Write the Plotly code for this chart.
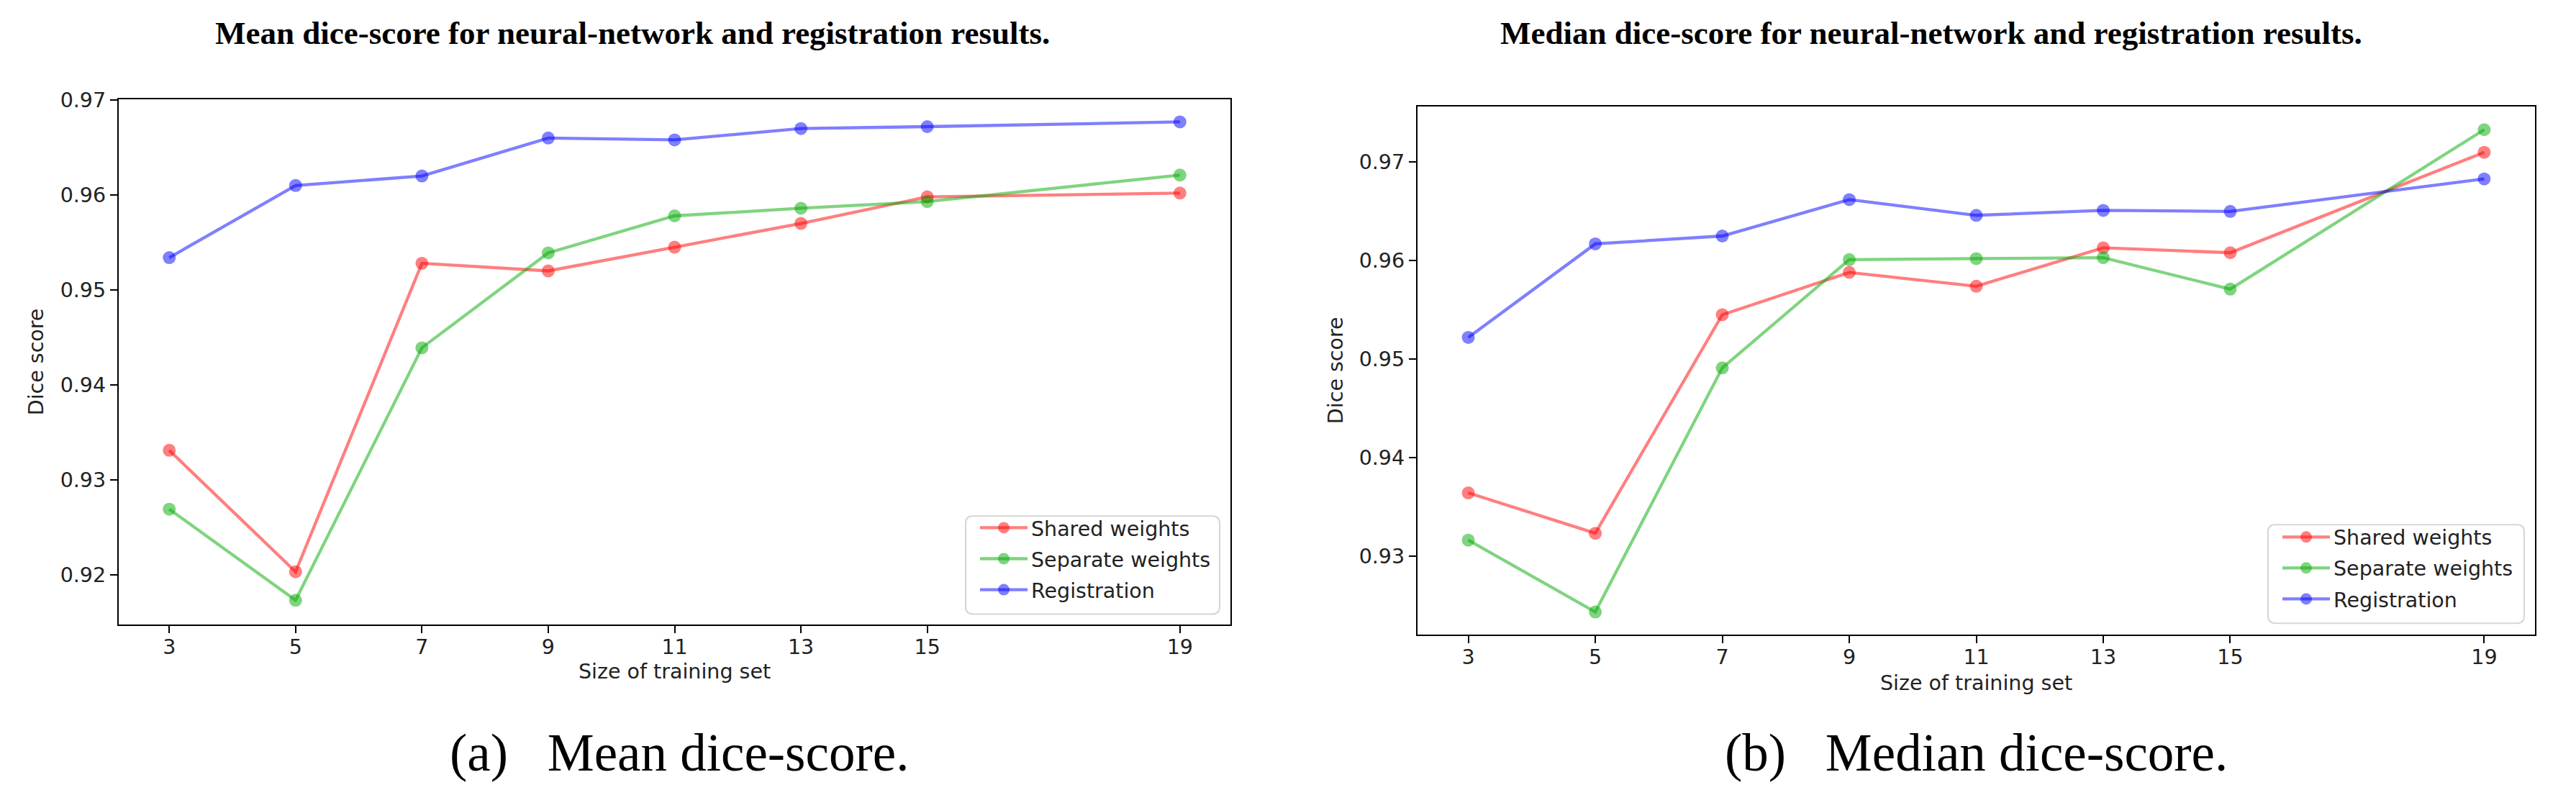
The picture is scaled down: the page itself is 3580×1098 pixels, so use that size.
import plotly.graph_objects as go

# ---------------- data ----------------
train_sizes = [3, 5, 7, 9, 11, 13, 15, 19]
x_tick_labels = ["3", "5", "7", "9", "11", "13", "15", "19"]

mean_shared = [0.9331, 0.9203, 0.9528, 0.9520, 0.9545, 0.9570, 0.9598, 0.9602]
mean_separate = [0.9269, 0.9173, 0.9439, 0.9539, 0.9578, 0.9586, 0.9593, 0.9621]
mean_registration = [0.9534, 0.9610, 0.9620, 0.9660, 0.9658, 0.9670, 0.9672, 0.9677]

median_shared = [0.9364, 0.9323, 0.9545, 0.9588, 0.9574, 0.9613, 0.9608, 0.9710]
median_separate = [0.9316, 0.9243, 0.9491, 0.9601, 0.9602, 0.9603, 0.9571, 0.9733]
median_registration = [0.9522, 0.9617, 0.9625, 0.9662, 0.9646, 0.9651, 0.9650, 0.9683]

series_names = ["Shared weights", "Separate weights", "Registration"]
mean_ticks = [0.92, 0.93, 0.94, 0.95, 0.96, 0.97]
median_ticks = [0.93, 0.94, 0.95, 0.96, 0.97]

panel_titles = ["Mean dice-score for neural-network and registration results.",
                "Median dice-score for neural-network and registration results."]
captions = ["(a)\u00a0\u00a0\u00a0Mean dice-score.", "(b)\u00a0\u00a0\u00a0Median dice-score."]
x_title = "Size of training set"
y_title = "Dice score"

# ---------------- style ----------------
OFF = 8  # default page body margin
W, H = 3580 - OFF, 1098 - OFF
colors = ["rgba(255,0,0,0.5)", "rgba(0,170,0,0.5)", "rgba(0,0,255,0.5)"]
SANS = "DejaVu Sans"
SERIF = "Liberation Serif"
FS = 28.5
TXT = "#222222"

def px_x(p):
    return (p - OFF) / W

def px_y(p):
    return 1 - (p - OFF) / H

fig = go.Figure()

panels = [
    dict(yr=[0.91473, 0.97005], data=[mean_shared, mean_separate, mean_registration],
         legend="legend", ax="x", ay="y"),
    dict(yr=[0.92198, 0.97569], data=[median_shared, median_separate, median_registration],
         legend="legend2", ax="x2", ay="y2"),
]

for p in panels:
    for name, vals, col in zip(series_names, p["data"], colors):
        fig.add_trace(go.Scatter(
            x=train_sizes, y=vals, mode="lines+markers", name=name,
            line=dict(color=col, width=4.3),
            marker=dict(color=col, size=18, line=dict(width=0)),
            xaxis=p["ax"], yaxis=p["ay"], legend=p["legend"],
            legendgroup=p["legend"] + "_" + name,
        ))

axis_common = dict(showline=True, linecolor="black", linewidth=2.3, mirror=True,
                   ticks="outside", ticklen=10, tickwidth=2.3, tickcolor="black",
                   showgrid=False, zeroline=False,
                   tickfont=dict(family=SANS, size=FS, color=TXT))

layout = dict(
    width=W, height=H, margin=dict(l=0, r=0, t=0, b=0),
    paper_bgcolor="white", plot_bgcolor="white", showlegend=True,
    xaxis=dict(domain=[px_x(165), px_x(1710)], range=[2.2, 19.8], anchor="y",
               tickvals=train_sizes, ticktext=x_tick_labels, ticklabelstandoff=-6,
               **axis_common),
    yaxis=dict(domain=[px_y(865), px_y(125)], range=panels[0]["yr"], anchor="x",
               tickvals=mean_ticks, tickformat=".2f", **axis_common),
    xaxis2=dict(domain=[px_x(1970), px_x(3523)], range=[2.2, 19.8], anchor="y2",
                tickvals=train_sizes, ticktext=x_tick_labels, ticklabelstandoff=-6,
                **axis_common),
    yaxis2=dict(domain=[px_y(879.3), px_y(134.3)], range=panels[1]["yr"], anchor="x2",
                tickvals=median_ticks, tickformat=".2f", **axis_common),
)

legend_common = dict(xanchor="left", yanchor="top", bgcolor="rgba(0,0,0,0)",
                     borderwidth=0,
                     font=dict(family=SANS, size=FS, color=TXT), itemwidth=66,
                     tracegroupgap=3)
layout["legend"] = dict(x=px_x(1357), y=px_y(703), **legend_common)
layout["legend2"] = dict(x=px_x(3167), y=px_y(716), **legend_common)

fig.update_layout(**layout)

# rounded legend frames (matplotlib style)
def rounded_frame(x0, y0, x1, y1, r=10):
    pts = (f"M {px_x(x0 + r)},{px_y(y0)} L {px_x(x1 - r)},{px_y(y0)} "
           f"Q {px_x(x1)},{px_y(y0)} {px_x(x1)},{px_y(y0 + r)} "
           f"L {px_x(x1)},{px_y(y1 - r)} Q {px_x(x1)},{px_y(y1)} {px_x(x1 - r)},{px_y(y1)} "
           f"L {px_x(x0 + r)},{px_y(y1)} Q {px_x(x0)},{px_y(y1)} {px_x(x0)},{px_y(y1 - r)} "
           f"L {px_x(x0)},{px_y(y0 + r)} Q {px_x(x0)},{px_y(y0)} {px_x(x0 + r)},{px_y(y0)} Z")
    return dict(type="path", path=pts, xref="paper", yref="paper", layer="above",
                fillcolor="rgba(255,255,255,0.8)", line=dict(color="#d6d6d6", width=2))

fig.update_layout(shapes=[rounded_frame(1342, 712, 1695, 850),
                          rounded_frame(3152, 724, 3508, 863)])

annotations = []
# panel titles
for cx, t in zip([879, 2684], panel_titles):
    annotations.append(dict(text="<b>" + t + "</b>", x=px_x(cx), y=px_y(31), xref="paper", yref="paper",
                            showarrow=False, xanchor="center", yanchor="middle",
                            font=dict(family=SERIF, size=45, color="black")))
# captions
for cx, t in zip([944, 2746], captions):
    annotations.append(dict(text=t, x=px_x(cx), y=px_y(1046), xref="paper", yref="paper",
                            showarrow=False, xanchor="center", yanchor="middle",
                            font=dict(family=SERIF, size=73, color="black")))
# axis titles
for cx, cy in [(937.5, 931), (2746.5, 947)]:
    annotations.append(dict(text=x_title, x=px_x(cx), y=px_y(cy), xref="paper", yref="paper",
                            showarrow=False, xanchor="center", yanchor="middle",
                            font=dict(family=SANS, size=FS, color=TXT)))
for cx, cy in [(50, 495), (1856, 507)]:
    annotations.append(dict(text=y_title, x=px_x(cx), y=px_y(cy), xref="paper", yref="paper",
                            showarrow=False, xanchor="center", yanchor="middle", textangle=-90,
                            font=dict(family=SANS, size=FS, color=TXT)))
fig.update_layout(annotations=annotations)

fig.write_html("out.html")
